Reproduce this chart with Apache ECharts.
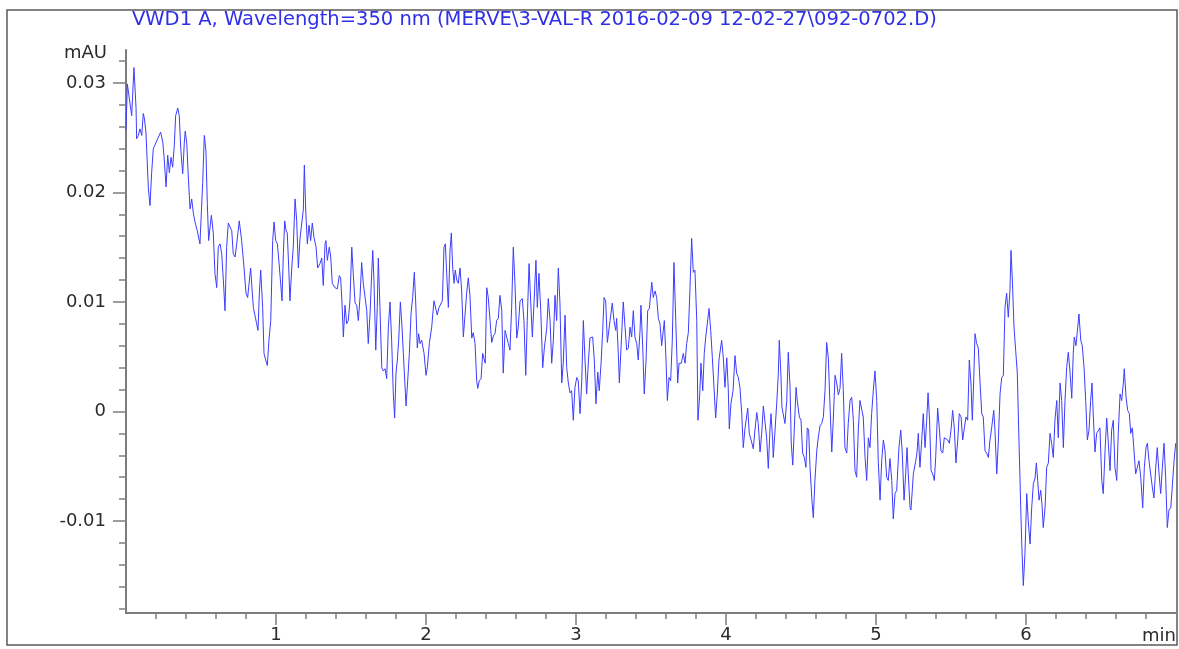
<!DOCTYPE html>
<html><head><meta charset="utf-8">
<script src="https://cdn.jsdelivr.net/npm/echarts@6/dist/echarts.min.js"></script>
<style>html,body{margin:0;padding:0;background:#fff}#c{width:1179px;height:649px}</style>
</head><body><div id="c"></div>
<script>
const titleText = 'VWD1 A, Wavelength=350 nm (MERVE\\3-VAL-R 2016-02-09 12-02-27\\092-0702.D)';
const yUnit = 'mAU';
const xUnit = 'min';
const yLabelValues = [-0.01, 0, 0.01, 0.02, 0.03];
const xLabelValues = [1, 2, 3, 4, 5, 6];

// signal [time (min), absorbance (mAU)], one array per minute
const trace0 = [[0,0.0257],[0.009,0.0299],[0.038,0.0270],[0.053,0.0314],[0.067,0.0277],[0.071,0.0249],[0.082,0.0252],[0.093,0.0258],[0.105,0.0252],[0.115,0.0272],[0.122,0.0268],[0.133,0.0255],[0.149,0.0204],[0.160,0.0188],[0.171,0.0218],[0.182,0.0240],[0.193,0.0240],[0.205,0.0247],[0.215,0.0247],[0.231,0.0255],[0.245,0.0246],[0.253,0.0234],[0.267,0.0205],[0.278,0.0234],[0.289,0.0218],[0.300,0.0232],[0.311,0.0223],[0.322,0.0243],[0.331,0.0270],[0.345,0.0277],[0.355,0.0270],[0.365,0.0240],[0.378,0.0217],[0.389,0.0246],[0.395,0.0256],[0.405,0.0245],[0.415,0.0215],[0.427,0.0185],[0.438,0.0194],[0.449,0.0181],[0.460,0.0173],[0.471,0.0172],[0.475,0.0165],[0.493,0.0153],[0.502,0.0153],[0.511,0.0208],[0.522,0.0252],[0.533,0.0238],[0.542,0.0190],[0.551,0.0156],[0.560,0.0168],[0.569,0.0179],[0.582,0.0163],[0.593,0.0126],[0.605,0.0113],[0.615,0.0150],[0.627,0.0153],[0.638,0.0144],[0.649,0.0120],[0.660,0.0092],[0.671,0.0150],[0.682,0.0172],[0.693,0.0173],[0.705,0.0165],[0.715,0.0144],[0.727,0.0141],[0.738,0.0153],[0.755,0.0174],[0.771,0.0156],[0.787,0.0131],[0.800,0.0108],[0.811,0.0104],[0.831,0.0131],[0.842,0.0108],[0.849,0.0095],[0.860,0.0095],[0.871,0.0080],[0.880,0.0074],[0.889,0.0108],[0.898,0.0129],[0.911,0.0095],[0.920,0.0053],[0.931,0.0047],[0.942,0.0042],[0.953,0.0065],[0.965,0.0083],[0.978,0.0156],[0.987,0.0173],[0.998,0.0156]];
const trace1 = [[1.009,0.0153],[1.020,0.0136],[1.031,0.0117],[1.040,0.0101],[1.049,0.0144],[1.058,0.0174],[1.067,0.0165],[1.075,0.0163],[1.085,0.0131],[1.093,0.0101],[1.105,0.0131],[1.115,0.0150],[1.127,0.0194],[1.138,0.0174],[1.149,0.0131],[1.160,0.0158],[1.171,0.0158],[1.182,0.0184],[1.189,0.0225],[1.198,0.0184],[1.209,0.0153],[1.220,0.0170],[1.231,0.0156],[1.242,0.0172],[1.253,0.0159],[1.267,0.0150],[1.278,0.0131],[1.293,0.0135],[1.305,0.0140],[1.315,0.0115],[1.327,0.0153],[1.333,0.0156],[1.342,0.0138],[1.355,0.0150],[1.365,0.0141],[1.375,0.0117],[1.393,0.0113],[1.409,0.0112],[1.422,0.0124],[1.431,0.0122],[1.440,0.0099],[1.449,0.0068],[1.460,0.0097],[1.471,0.0080],[1.482,0.0083],[1.493,0.0101],[1.505,0.0150],[1.515,0.0126],[1.527,0.0099],[1.538,0.0097],[1.549,0.0083],[1.560,0.0104],[1.571,0.0136],[1.582,0.0117],[1.593,0.0118],[1.605,0.0092],[1.615,0.0062],[1.627,0.0089],[1.638,0.0126],[1.645,0.0147],[1.653,0.0120],[1.665,0.0056],[1.675,0.0095],[1.682,0.0140],[1.693,0.0095],[1.705,0.0040],[1.715,0.0037],[1.727,0.0039],[1.738,0.0030],[1.749,0.0077],[1.760,0.0100],[1.771,0.0065],[1.782,0.0016],[1.791,-0.0006],[1.800,0.0035],[1.809,0.0047],[1.818,0.0065],[1.829,0.0100],[1.840,0.0077],[1.849,0.0053],[1.867,0.0005],[1.878,0.0028],[1.889,0.0053],[1.900,0.0089],[1.911,0.0104],[1.922,0.0127],[1.931,0.0101],[1.942,0.0058],[1.951,0.0071],[1.960,0.0062],[1.971,0.0065],[1.987,0.0053]];
const trace2 = [[2.000,0.0033],[2.009,0.0040],[2.022,0.0062],[2.038,0.0077],[2.053,0.0101],[2.065,0.0100],[2.075,0.0088],[2.087,0.0095],[2.098,0.0095],[2.109,0.0101],[2.120,0.0150],[2.129,0.0153],[2.138,0.0126],[2.149,0.0095],[2.160,0.0147],[2.169,0.0163],[2.178,0.0131],[2.187,0.0117],[2.195,0.0129],[2.205,0.0120],[2.215,0.0117],[2.227,0.0131],[2.238,0.0110],[2.249,0.0068],[2.260,0.0088],[2.271,0.0108],[2.282,0.0122],[2.293,0.0106],[2.305,0.0067],[2.315,0.0072],[2.327,0.0062],[2.338,0.0028],[2.345,0.0021],[2.355,0.0028],[2.367,0.0030],[2.378,0.0053],[2.387,0.0048],[2.395,0.0044],[2.405,0.0113],[2.415,0.0104],[2.427,0.0083],[2.438,0.0063],[2.449,0.0069],[2.460,0.0071],[2.471,0.0083],[2.482,0.0085],[2.493,0.0106],[2.505,0.0092],[2.515,0.0035],[2.527,0.0074],[2.538,0.0074],[2.549,0.0062],[2.560,0.0056],[2.571,0.0095],[2.582,0.0150],[2.593,0.0117],[2.605,0.0067],[2.615,0.0077],[2.627,0.0101],[2.642,0.0103],[2.653,0.0083],[2.665,0.0033],[2.675,0.0083],[2.687,0.0135],[2.698,0.0100],[2.709,0.0068],[2.720,0.0099],[2.733,0.0138],[2.742,0.0095],[2.753,0.0126],[2.765,0.0092],[2.778,0.0040],[2.789,0.0058],[2.805,0.0076],[2.815,0.0103],[2.827,0.0083],[2.838,0.0044],[2.849,0.0065],[2.860,0.0106],[2.871,0.0083],[2.882,0.0131],[2.893,0.0099],[2.905,0.0026],[2.915,0.0044],[2.927,0.0088],[2.938,0.0040],[2.949,0.0026],[2.960,0.0017],[2.971,0.0019],[2.982,-0.0008],[2.993,0.0022]];
const trace3 = [[3.005,0.0031],[3.015,0.0028],[3.027,-0.0002],[3.038,0.0026],[3.049,0.0083],[3.060,0.0047],[3.071,0.0016],[3.082,0.0044],[3.093,0.0067],[3.111,0.0068],[3.122,0.0047],[3.133,0.0007],[3.145,0.0036],[3.155,0.0019],[3.167,0.0044],[3.178,0.0074],[3.187,0.0104],[3.198,0.0101],[3.209,0.0063],[3.215,0.0063],[3.227,0.0083],[3.242,0.0099],[3.253,0.0083],[3.265,0.0074],[3.271,0.0085],[3.282,0.0053],[3.289,0.0026],[3.300,0.0058],[3.315,0.0100],[3.327,0.0077],[3.338,0.0056],[3.349,0.0058],[3.360,0.0077],[3.371,0.0068],[3.382,0.0092],[3.393,0.0068],[3.405,0.0062],[3.415,0.0047],[3.427,0.0074],[3.433,0.0097],[3.445,0.0058],[3.455,0.0016],[3.467,0.0047],[3.478,0.0092],[3.489,0.0094],[3.505,0.0118],[3.515,0.0104],[3.527,0.0110],[3.538,0.0104],[3.549,0.0085],[3.560,0.0080],[3.571,0.0060],[3.582,0.0074],[3.589,0.0083],[3.600,0.0047],[3.609,0.0010],[3.620,0.0031],[3.631,0.0028],[3.642,0.0065],[3.653,0.0136],[3.665,0.0083],[3.678,0.0026],[3.687,0.0044],[3.702,0.0044],[3.715,0.0053],[3.727,0.0044],[3.738,0.0062],[3.749,0.0072],[3.760,0.0113],[3.771,0.0158],[3.782,0.0127],[3.793,0.0129],[3.805,0.0083],[3.813,-0.0008],[3.825,0.0016],[3.833,0.0044],[3.845,0.0019],[3.855,0.0053],[3.865,0.0068],[3.875,0.0067],[3.887,0.0094],[3.898,0.0074],[3.909,0.0049],[3.920,0.0022],[3.931,-0.0006],[3.942,0.0016],[3.953,0.0047],[3.971,0.0065],[3.982,0.0049],[3.993,0.0022]];
const trace4 = [[4.005,0.0049],[4.015,0.0021],[4.022,-0.0016],[4.033,0.0007],[4.047,0.0019],[4.060,0.0051],[4.071,0.0035],[4.082,0.0031],[4.093,0.0022],[4.105,-0.0002],[4.115,-0.0033],[4.127,-0.0015],[4.145,0.0003],[4.155,-0.0020],[4.167,-0.0026],[4.182,-0.0034],[4.193,-0.0017],[4.205,-0.0001],[4.215,-0.0011],[4.227,-0.0037],[4.238,-0.0020],[4.249,0.0005],[4.260,0.0005],[4.271,-0.0024],[4.282,-0.0052],[4.293,-0.0017],[4.300,-0.0002],[4.311,-0.0026],[4.315,-0.0042],[4.327,-0.0017],[4.338,0.0007],[4.349,0.0035],[4.355,0.0065],[4.365,0.0037],[4.373,0.0004],[4.382,0.0003],[4.393,-0.0011],[4.405,0.0010],[4.415,0.0054],[4.427,0.0022],[4.435,-0.0029],[4.445,-0.0049],[4.455,-0.0017],[4.467,0.0022],[4.475,0.0010],[4.489,-0.0005],[4.500,-0.0008],[4.511,-0.0038],[4.522,-0.0042],[4.533,-0.0051],[4.542,-0.0015],[4.551,-0.0017],[4.560,-0.0051],[4.573,-0.0081],[4.582,-0.0097],[4.593,-0.0063],[4.605,-0.0036],[4.615,-0.0024],[4.627,-0.0013],[4.638,-0.0011],[4.649,-0.0005],[4.660,0.0019],[4.671,0.0063],[4.682,0.0049],[4.693,0.0007],[4.705,-0.0037],[4.715,-0.0008],[4.727,0.0033],[4.738,0.0026],[4.749,0.0015],[4.760,0.0021],[4.771,0.0053],[4.782,0.0019],[4.793,-0.0033],[4.805,-0.0038],[4.815,-0.0011],[4.827,0.0010],[4.838,0.0013],[4.849,-0.0008],[4.860,-0.0054],[4.871,-0.0060],[4.882,-0.0017],[4.893,0.0010],[4.905,0.0010],[4.915,-0.0005],[4.927,-0.0042],[4.938,-0.0063],[4.949,-0.0024],[4.960,-0.0033],[4.971,-0.0002],[4.982,0.0019],[4.993,0.0037]];
const trace5 = [[5.005,0.0010],[5.015,-0.0045],[5.027,-0.0081],[5.038,-0.0045],[5.049,-0.0026],[5.060,-0.0036],[5.071,-0.0060],[5.082,-0.0063],[5.093,-0.0043],[5.105,-0.0063],[5.115,-0.0098],[5.127,-0.0075],[5.138,-0.0072],[5.153,-0.0033],[5.165,-0.0017],[5.175,-0.0038],[5.187,-0.0081],[5.198,-0.0057],[5.207,-0.0033],[5.215,-0.0057],[5.227,-0.0088],[5.233,-0.0090],[5.249,-0.0057],[5.265,-0.0045],[5.273,-0.0038],[5.282,-0.0020],[5.293,-0.0051],[5.305,-0.0026],[5.315,-0.0002],[5.327,-0.0033],[5.338,-0.0008],[5.347,0.0017],[5.357,-0.0008],[5.367,-0.0054],[5.378,-0.0057],[5.389,-0.0063],[5.398,-0.0042],[5.411,0.0003],[5.422,-0.0015],[5.433,-0.0036],[5.445,-0.0038],[5.455,-0.0024],[5.467,-0.0024],[5.478,-0.0026],[5.489,-0.0029],[5.500,-0.0017],[5.511,0.0001],[5.522,-0.0015],[5.533,-0.0047],[5.545,-0.0026],[5.555,-0.0002],[5.567,-0.0005],[5.578,-0.0026],[5.589,-0.0015],[5.600,-0.0005],[5.611,-0.0008],[5.622,0.0047],[5.633,0.0026],[5.642,-0.0008],[5.651,0.0026],[5.660,0.0071],[5.671,0.0062],[5.682,0.0058],[5.693,0.0028],[5.705,-0.0002],[5.715,-0.0005],[5.727,-0.0036],[5.738,-0.0038],[5.749,-0.0042],[5.760,-0.0026],[5.771,-0.0015],[5.785,0.0001],[5.793,-0.0017],[5.805,-0.0057],[5.815,-0.0029],[5.827,0.0016],[5.838,0.0031],[5.849,0.0033],[5.860,0.0095],[5.871,0.0108],[5.882,0.0086],[5.893,0.0110],[5.900,0.0147],[5.909,0.0120],[5.920,0.0077],[5.931,0.0056],[5.942,0.0035],[5.953,-0.0026],[5.965,-0.0088],[5.971,-0.0118],[5.982,-0.0159],[5.993,-0.0130]];
const trace6 = [[6.005,-0.0075],[6.015,-0.0100],[6.027,-0.0121],[6.038,-0.0088],[6.049,-0.0066],[6.060,-0.0061],[6.069,-0.0047],[6.078,-0.0063],[6.087,-0.0081],[6.098,-0.0072],[6.107,-0.0086],[6.115,-0.0106],[6.127,-0.0088],[6.138,-0.0051],[6.149,-0.0047],[6.160,-0.0020],[6.171,-0.0029],[6.182,-0.0042],[6.193,-0.0008],[6.205,0.0010],[6.215,-0.0024],[6.227,0.0026],[6.238,0.0010],[6.249,-0.0033],[6.260,0.0010],[6.271,0.0040],[6.282,0.0054],[6.293,0.0037],[6.305,0.0012],[6.315,0.0053],[6.322,0.0068],[6.333,0.0060],[6.345,0.0077],[6.353,0.0089],[6.365,0.0065],[6.375,0.0060],[6.387,0.0040],[6.398,0.0010],[6.409,-0.0026],[6.420,-0.0017],[6.431,0.0010],[6.440,0.0026],[6.449,-0.0005],[6.460,-0.0037],[6.471,-0.0020],[6.482,-0.0019],[6.493,-0.0015],[6.505,-0.0063],[6.515,-0.0075],[6.527,-0.0036],[6.538,-0.0006],[6.549,-0.0029],[6.560,-0.0054],[6.571,-0.0017],[6.582,-0.0008],[6.593,-0.0051],[6.605,-0.0063],[6.615,-0.0020],[6.627,0.0016],[6.638,0.0010],[6.649,0.0026],[6.655,0.0039],[6.667,0.0013],[6.678,0.0001],[6.689,-0.0002],[6.698,-0.0020],[6.709,-0.0015],[6.720,-0.0036],[6.731,-0.0057],[6.742,-0.0051],[6.753,-0.0045],[6.765,-0.0060],[6.778,-0.0088],[6.789,-0.0051],[6.800,-0.0033],[6.809,-0.0029],[6.820,-0.0045],[6.831,-0.0045],[6.842,-0.0069],[6.853,-0.0079],[6.865,-0.0051],[6.875,-0.0033],[6.887,-0.0057],[6.898,-0.0075],[6.909,-0.0051],[6.920,-0.0029],[6.931,-0.0060],[6.942,-0.0106],[6.953,-0.0090],[6.965,-0.0088],[6.975,-0.0069],[6.987,-0.0045],[6.998,-0.0029]];

const trace = [].concat(trace0, trace1, trace2, trace3, trace4, trace5, trace6);

// minor tick positions
const yMinorTicks = [];
for (let i = -9; i <= 16; i++) yMinorTicks.push(i * 2 / 1000);
const xMinorTicks = [];
for (let i = 1; i <= 34; i++) xMinorTicks.push(i * 2 / 10);

const font = 'DejaVu Sans';
const axisGray = '#7d7d7d';
const labelColor = '#2b2b2b';

const chart = echarts.init(document.getElementById('c'), null, {renderer: 'canvas'});
chart.setOption({
  animation: false,
  backgroundColor: '#ffffff',
  title: {
    text: titleText, left: 132, top: 10, padding: 0,
    textStyle: {fontFamily: font, fontSize: 19.5, fontWeight: 'normal', color: '#2f2fe8'}
  },
  grid: {left: 126, right: 3, top: 50, bottom: 36, containLabel: false},
  xAxis: [
    {
      type: 'value', min: 0, max: 7, position: 'bottom',
      axisLine: {show: true, onZero: false, lineStyle: {color: axisGray, width: 2}},
      splitLine: {show: false},
      axisTick: {show: true, customValues: xLabelValues, length: 12, lineStyle: {color: axisGray, width: 1.5}},
      axisLabel: {show: true, customValues: xLabelValues, margin: 13, fontFamily: font, fontSize: 18, color: labelColor,
        formatter: v => String(v)}
    },
    {
      type: 'value', min: 0, max: 7, position: 'bottom',
      axisLine: {show: false, onZero: false},
      splitLine: {show: false},
      axisTick: {show: true, customValues: xMinorTicks, length: 6, lineStyle: {color: axisGray, width: 1.5}},
      axisLabel: {show: false}
    }
  ],
  yAxis: [
    {
      type: 'value', min: -0.0184, max: 0.033, position: 'left',
      axisLine: {show: true, onZero: false, lineStyle: {color: axisGray, width: 2}},
      splitLine: {show: false},
      axisTick: {show: true, customValues: yLabelValues, length: 13, lineStyle: {color: axisGray, width: 1.5}},
      axisLabel: {show: true, customValues: yLabelValues, margin: 20, fontFamily: font, fontSize: 18, color: labelColor,
        formatter: v => (Math.abs(v) < 1e-9 ? '0' : v.toFixed(2))}
    },
    {
      type: 'value', min: -0.0184, max: 0.033, position: 'left',
      axisLine: {show: false, onZero: false},
      splitLine: {show: false},
      axisTick: {show: true, customValues: yMinorTicks, length: 7, lineStyle: {color: axisGray, width: 1.5}},
      axisLabel: {show: false}
    }
  ],
  series: [{
    type: 'line', xAxisIndex: 0, yAxisIndex: 0, data: trace,
    showSymbol: false, symbol: 'none', smooth: false,
    lineStyle: {color: '#3d3dff', width: 1},
    emphasis: {disabled: true}
  }],
  graphic: [
    {type: 'rect', silent: true, z: 0, shape: {x: 7, y: 10, width: 1170, height: 635},
      style: {fill: 'none', stroke: '#5a5a5a', lineWidth: 1.5}},
    {type: 'text', silent: true, x: 107, y: 53,
      style: {text: yUnit, fontFamily: font, fontSize: 18, fill: labelColor, align: 'right', verticalAlign: 'middle'}},
    {type: 'text', silent: true, x: 1176, y: 636,
      style: {text: xUnit, fontFamily: font, fontSize: 18, fill: labelColor, align: 'right', verticalAlign: 'middle'}}
  ]
});
</script>
</body></html>
